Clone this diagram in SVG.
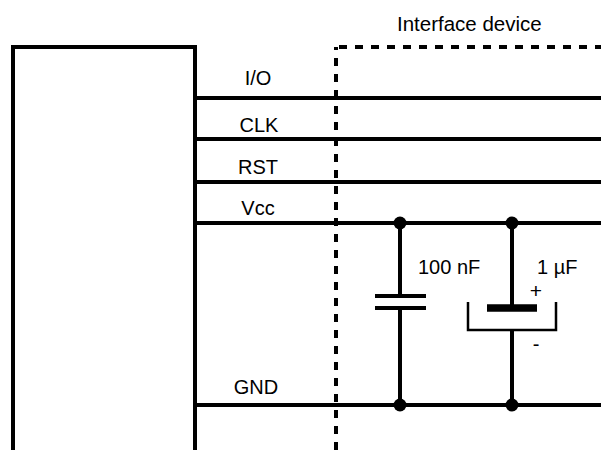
<svg xmlns="http://www.w3.org/2000/svg" width="601" height="450" viewBox="0 0 601 450">
<style>
.w{stroke:#000;stroke-width:4;fill:none}
.d{stroke:#000;stroke-width:4;fill:none;stroke-dasharray:8 8}
.t{font-family:"Liberation Sans",Arial,sans-serif;font-size:20px;fill:#000}
.c{text-anchor:middle}
.dot{fill:#000}
</style>
<rect width="601" height="450" fill="#fff"/>
<g id="card">
<path class="w" d="M13,450 V47 H195 V450"/>
</g>
<g id="interface-device">
<path class="d" d="M336,450 V47"/>
<path class="d" d="M336,47 H601" stroke-dashoffset="-3"/>
<text class="t" x="397" y="31" style="font-size:20.5px">Interface device</text>
</g>
<g id="connectors">
<path class="w" d="M195,98 H601"/>
<path class="w" d="M195,139 H601"/>
<path class="w" d="M195,182 H601"/>
<path class="w" d="M195,223 H601"/>
<path class="w" d="M195,405 H601"/>
<text class="t c" x="258" y="85">I/O</text>
<text class="t c" x="259" y="132">CLK</text>
<text class="t c" x="258" y="174">RST</text>
<text class="t c" x="258" y="215">Vcc</text>
<text class="t c" x="256" y="394">GND</text>
</g>
<g id="cap-100nF">
<path class="w" d="M400,223 V296 M400,308 V405"/>
<path class="w" d="M375,296 H426 M375,308 H426"/>
<circle class="dot" cx="400" cy="223" r="6.5"/>
<circle class="dot" cx="400" cy="405" r="6.5"/>
<text class="t" x="418" y="274">100 nF</text>
</g>
<g id="cap-1uF">
<path class="w" d="M512,223 V308 M512,330 V405"/>
<path d="M487,308 H537" stroke="#000" stroke-width="7.5"/>
<path d="M468,302 V330 H556 V302" stroke="#000" stroke-width="2.5" fill="none"/>
<circle class="dot" cx="512" cy="223" r="6.5"/>
<circle class="dot" cx="512" cy="405" r="6.5"/>
<text class="t" x="537" y="274">1 µF</text>
<text class="t c" x="536" y="298" style="font-size:21px">+</text>
<text class="t c" x="536" y="351" style="font-size:20px">-</text>
</g>
</svg>
